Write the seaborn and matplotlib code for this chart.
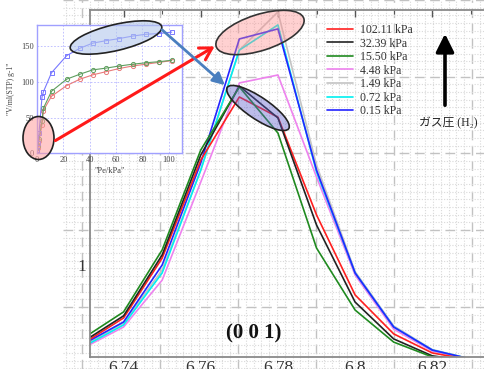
import numpy as np
import pandas as pd
import matplotlib
matplotlib.use("Agg")
import matplotlib.pyplot as plt
import matplotlib.transforms as mtransforms
from matplotlib.patches import Ellipse, FancyArrowPatch
import seaborn as sns

# ---------------- data ----------------
two_theta = [6.73, 6.74, 6.75, 6.76, 6.77, 6.78, 6.79, 6.80, 6.81, 6.82, 6.83]
pressures = ["102.11 kPa", "32.39 kPa", "15.50 kPa", "4.48 kPa", "1.49 kPa", "0.72 kPa", "0.15 kPa"]
i_102 = [0.708, 0.800, 1.026, 1.396, 1.634, 1.558, 1.189, 0.887, 0.740, 0.668, 0.642]
i_32 = [0.715, 0.808, 1.038, 1.415, 1.675, 1.555, 1.151, 0.860, 0.721, 0.657, 0.638]
i_15 = [0.728, 0.823, 1.057, 1.434, 1.672, 1.498, 1.064, 0.830, 0.709, 0.653, 0.634]
i_4 = [0.690, 0.766, 0.943, 1.313, 1.687, 1.717, 1.332, 0.962, 0.758, 0.675, 0.645]
i_1 = [0.700, 0.781, 0.981, 1.358, 1.811, 1.955, 1.377, 0.975, 0.770, 0.681, 0.645]
i_07 = [0.695, 0.774, 0.970, 1.358, 1.811, 1.906, 1.351, 0.970, 0.766, 0.679, 0.645]
i_015 = [0.705, 0.785, 1.000, 1.385, 1.853, 1.891, 1.358, 0.970, 0.766, 0.679, 0.645]
series_vals = [i_102, i_32, i_15, i_4, i_1, i_07, i_015]
colors = ["#ff2020", "#222222", "#1f8a1f", "#ee82ee", "#c4c4c4", "#00f0f0", "#2424ff"]

# isotherm inset
iso_p = [0.15, 0.72, 1.49, 3.8, 4.8, 11.0, 22.5, 32.6, 42.2, 52.3, 62.5, 72.6, 82.5, 92.3, 102.2]
iso_blue = [5, 15, 28, 79, 86, 113, 137, 147.5, 154.5, 158, 161, 164.5, 167, 168, 170]
iso_green = [3, 10, 20, 45, 63, 87, 104, 111, 117, 119.5, 122.5, 125, 127, 128.5, 130.5]
iso_red = [2, 8, 17, 40, 60, 80, 95, 104, 110, 114.5, 119, 122.5, 125, 127.5, 130]

W, H = 484, 369
sns.set_style("white")
plt.rcParams["font.family"] = ["Liberation Serif", "Noto Sans CJK JP", "DejaVu Sans"]

fig = plt.figure(figsize=(W / 100, H / 100), dpi=100)
fig.patch.set_facecolor("white")
# pixel transform (x right, y down, origin top-left)
pix = mtransforms.Affine2D().scale(1 / 100, -1 / 100).translate(0, H / 100) + fig.dpi_scale_trans

# ---------------- graph-paper background ----------------
bg = fig.add_axes([63 / W, 0, 1 - 63 / W, 1], zorder=-5)
bg.set_xlim(63, W)
bg.set_ylim(H, 0)
bg.set_xticks(np.arange(82, W + 1, 78))
bg.set_xticks(np.arange(66.4, W, 7.8), minor=True)
bg.set_yticks(np.arange(-11, H + 1, 79))
bg.set_yticks(np.arange(-3.1, H, 7.9), minor=True)
bg.grid(which="minor", color="#d9d9d9", lw=0.8, ls=(0, (1, 1.5)))
bg.grid(which="major", color="#c2c2c2", lw=1.0, ls=(0, (7, 4)))
bg.tick_params(which="both", length=0, labelbottom=False, labelleft=False)
for s in bg.spines.values():
    s.set_visible(False)

# ---------------- main axes ----------------
ax = fig.add_axes([90 / W, 12 / H, 394 / W, 347 / H], zorder=1)
ax.patch.set_alpha(0)
rows = []
for lab, vals in zip(pressures, series_vals):
    for t, v in zip(two_theta, vals):
        rows.append({"two_theta": t, "intensity": v, "pressure": lab})
df = pd.DataFrame(rows)
draw_order = ["1.49 kPa", "4.48 kPa", "0.72 kPa", "0.15 kPa", "102.11 kPa", "32.39 kPa", "15.50 kPa"]
pal = dict(zip(pressures, colors))
sns.lineplot(data=df, x="two_theta", y="intensity", hue="pressure", hue_order=draw_order,
             palette=pal, estimator=None, sort=False, linewidth=1.2, legend=False, ax=ax)
ax.set_xlim(6.7313, 6.8334)
ax.set_ylim(0.6528, 1.9623)
ax.set_xlabel("")
ax.set_ylabel("")
ax.set_xticks([6.74, 6.76, 6.78, 6.80, 6.82])
ax.set_xticklabels(["6.74", "6.76", "6.78", "6.8", "6.82"])
ax.set_xticks(np.arange(6.75, 6.84, 0.02), minor=True)
ax.set_yticks([1.0])
ax.set_yticklabels(["1"])
ax.set_yticks([0.8, 1.2, 1.4, 1.6, 1.8], minor=True)
ax.tick_params(which="both", direction="in", top=True, right=False, color="#555555",
               labelsize=12.5, labelcolor="#333333")
ax.tick_params(which="major", length=5, width=1, pad=2.5)
ax.tick_params(which="minor", length=3, width=0.8)
for k in ["left", "bottom", "top"]:
    ax.spines[k].set_color("#8a8a8a")
    ax.spines[k].set_linewidth(1.3)
ax.spines["right"].set_visible(False)

line_by_label = dict(zip(draw_order, ax.lines))
leg = ax.legend([line_by_label[p] for p in pressures], pressures, loc="upper left",
                bbox_to_anchor=(327 / W, 1 - 24 / H), bbox_transform=fig.transFigure,
                frameon=False, fontsize=8.5, handlelength=2.2, handletextpad=0.6,
                labelspacing=0.13, borderpad=0, borderaxespad=0)
for t in leg.get_texts():
    t.set_color("#333333")

fig.text(254, 333, "(0 0 1)", transform=pix, ha="center", va="center",
         fontsize=15, fontweight="bold", color="#111111")
fig.text(448, 123, "ガス圧 (H₂)", transform=pix, ha="center", va="center",
         fontsize=8.5, color="#222222",
         family=["Liberation Serif", "Noto Sans CJK JP", "DejaVu Sans"])
fig.add_artist(FancyArrowPatch((445, 108), (445, 31), transform=pix,
                               arrowstyle="-|>,head_width=0.45,head_length=0.9",
                               mutation_scale=12, lw=2.6, color="black", zorder=10))

# ---------------- inset isotherm ----------------
ins = fig.add_axes([37 / W, 1 - 153.3 / H, 145 / W, 128.3 / H], zorder=3)
ins.set_facecolor("white")
for vals, col, mk in [(iso_red, "#e87a7a", "o"), (iso_green, "#5e9e5e", "o"), (iso_blue, "#7878ff", "s")]:
    sns.lineplot(x=iso_p, y=vals, color=col, marker=mk, markersize=3, mfc="none", mec=col,
                 mew=0.7, lw=0.8, estimator=None, sort=False, ax=ins)
ins.set_xlim(0, 110)
ins.set_ylim(0, 180)
ins.set_xticks([0, 20, 40, 60, 80, 100])
ins.set_yticks([0, 50, 100, 150])
ins.grid(True, color="#b8b8ff", lw=0.6, ls=(0, (2, 2)))
ins.tick_params(length=0, labelsize=6, labelcolor="#444444", pad=2)
for s in ins.spines.values():
    s.set_color("#a0a0ff")
    s.set_linewidth(1.0)
ins.set_xlabel('"Pe/kPa"', fontsize=6, color="#444444", labelpad=2)
ins.set_ylabel('"V/ml(STP) g-1"', fontsize=5.5, color="#444444", labelpad=5)

# ---------------- ellipses and arrows ----------------
fig.add_artist(Ellipse((116, 37.5), 94, 26, angle=-13.4, transform=pix,
                       facecolor=(0.70, 0.78, 0.92, 0.6), edgecolor="#222222", lw=1.2, zorder=11))
fig.add_artist(Ellipse((38.5, 138), 31, 43, angle=0, transform=pix,
                       facecolor=(1.0, 0.62, 0.62, 0.55), edgecolor="#222222", lw=1.2, zorder=11))
fig.add_artist(Ellipse((260, 32.5), 92, 36, angle=-17.8, transform=pix,
                       facecolor=(1.0, 0.55, 0.55, 0.4), edgecolor="#333333", lw=1.2, zorder=11))
fig.add_artist(Ellipse((258, 108), 74, 22, angle=33.9, transform=pix,
                       facecolor=(0.35, 0.35, 0.8, 0.4), edgecolor="#222222", lw=1.2, zorder=11))
fig.add_artist(FancyArrowPatch((53, 142), (217, 45), transform=pix,
                               arrowstyle="->,head_width=0.35,head_length=0.6",
                               mutation_scale=14, lw=2.2, color="#ff1a1a", zorder=12))
fig.add_artist(FancyArrowPatch((160, 28), (227, 87), transform=pix,
                               arrowstyle="-|>,head_width=0.3,head_length=0.6",
                               mutation_scale=12, lw=2.0, color="#4a7fbf", zorder=12))

fig.savefig("out.png", dpi=100)
